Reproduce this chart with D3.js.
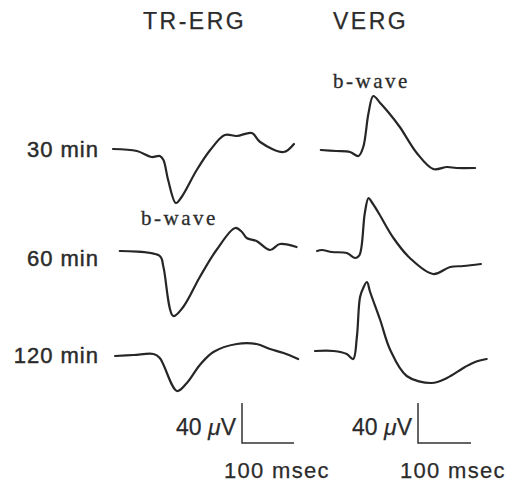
<!DOCTYPE html>
<html>
<head>
<meta charset="utf-8">
<script src="https://cdn.jsdelivr.net/npm/d3@7"></script>
<style>
  body { margin: 0; background: #fff; }
  text { fill: #2b2b2b; }
  .sans { font-family: "Liberation Sans", Arial, sans-serif; stroke: #2b2b2b; stroke-width: 0.25px; }
  .row { stroke-width: 0.45px; }
  .serif { font-family: "Liberation Serif", "Times New Roman", serif; stroke: #2b2b2b; stroke-width: 0.3px; }
</style>
</head>
<body>
<div id="chart"></div>
<script>
// time in msec from start of sweep, amplitude in uV relative to row baseline (up = positive)
var rows = ["30 min", "60 min", "120 min"];
var panels = ["TR-ERG", "VERG"];

var tr30T = [0, 46, 74, 90, 97, 106, 121, 132, 161, 187, 215, 238, 267, 283, 328, 348];
var tr30V = [1, -1, -7, -6, -10, -30, -53, -47, -20, 0, 15, 14, 17, 8, -2, 6];
var tr60T = [13, 90, 97, 116, 135, 167, 199, 235, 248, 257, 276, 302, 321, 353];
var tr60V = [1, -4, -15, -64, -55, -25, 2, 24, 20, 14, 11, 2, 8, 5];
var tr120T = [4, 40, 78, 90, 123, 142, 167, 193, 238, 276, 302, 328, 356];
var tr120V = [-1, 0, 1, -3, -36, -28, -10, 3, 11, 11, 6, 2, -4];

var v30T = [11, 40, 66, 82, 91, 101, 110, 123, 138, 160, 192, 223, 249, 267, 302];
var v30V = [0, -1, -2, -6, 3, 37, 54, 47, 38, 23, -3, -19, -17, -18, -18];
var v60T = [4, 13, 32, 60, 76, 84, 94, 101, 107, 119, 148, 179, 223, 255, 280, 313];
var v60V = [1, 2, 0, -1, -6, -3, 39, 54, 50, 40, 14, -6, -22, -15, -14, -12];
var v120T = [0, 35, 60, 72, 79, 85, 91, 98, 104, 123, 142, 173, 220, 249, 283, 302, 324];
var v120V = [4, 4, 1, -4, 18, 58, 67, 73, 63, 35, 5, -21, -28, -23, -12, -7, -4];

var traces = [
  [[tr30T, tr30V], [v30T, v30V]],
  [[tr60T, tr60V], [v60T, v60V]],
  [[tr120T, tr120V], [v120T, v120V]]
];

var barMsec = 100, barMicroV = 40;

var width = 516, height = 485;
var svg = d3.select("#chart").append("svg")
  .attr("width", width)
  .attr("height", height);

// one x scale per panel, one y scale per row
var x = [
  d3.scaleLinear().domain([0, 100]).range([113, 165]),
  d3.scaleLinear().domain([0, 100]).range([315, 368])
];
var rowBase = [150, 252, 355];
var y = rowBase.map(function (b) {
  return d3.scaleLinear().domain([0, 40]).range([b, b - 40]);
});

traces.forEach(function (row, r) {
  row.forEach(function (tr, p) {
    var pts = tr[0].map(function (t, i) { return [t, tr[1][i]]; });
    var line = d3.line()
      .x(function (d) { return x[p](d[0]); })
      .y(function (d) { return y[r](d[1]); })
      .curve(d3.curveCatmullRom.alpha(0.5));
    svg.append("path")
      .datum(pts)
      .attr("d", line)
      .attr("fill", "none")
      .attr("stroke", "#262626")
      .attr("stroke-width", 2.2)
      .attr("stroke-linejoin", "round")
      .attr("stroke-linecap", "round");
  });
});

// titles
svg.selectAll(".title")
  .data(panels)
  .enter().append("text")
  .attr("class", "sans title")
  .attr("x", function (d, i) { return [143, 333][i]; })
  .attr("y", 29)
  .style("font-size", "23px")
  .style("letter-spacing", "2.5px")
  .text(function (d) { return d; });

// row labels
svg.selectAll(".row")
  .data(rows)
  .enter().append("text")
  .attr("class", "sans row")
  .attr("x", 99)
  .attr("y", function (d, i) { return [157, 266, 363][i]; })
  .attr("text-anchor", "end")
  .style("font-size", "22px")
  .style("letter-spacing", "1px")
  .text(function (d) { return d; });

// b-wave labels
[[141, 225], [333, 88]].forEach(function (pos) {
  svg.append("text")
    .attr("class", "serif")
    .attr("x", pos[0])
    .attr("y", pos[1])
    .style("font-size", "21px")
    .style("letter-spacing", "2.5px")
    .text("b-wave");
});

// scale bars
var barCorner = [[242, 443], [418, 443]];
barCorner.forEach(function (c, p) {
  var len = x[p](barMsec) - x[p](0);
  var hgt = y[0](0) - y[0](barMicroV);
  svg.append("path")
    .attr("d", "M" + c[0] + "," + (c[1] - hgt) + "V" + c[1] + "H" + (c[0] + len))
    .attr("fill", "none")
    .attr("stroke", "#333")
    .attr("stroke-width", 1.5);

  var lab = svg.append("text")
    .attr("class", "sans")
    .attr("x", c[0] - 6)
    .attr("y", c[1] - 8)
    .attr("text-anchor", "end")
    .style("font-size", "23px");
  lab.append("tspan").text(barMicroV + " ");
  lab.append("tspan").style("font-style", "italic").text("\u03bc");
  lab.append("tspan").text("V");

  svg.append("text")
    .attr("class", "sans")
    .attr("x", c[0] - 18)
    .attr("y", 478)
    .style("font-size", "22px")
    .style("letter-spacing", "1.3px")
    .text(barMsec + " msec");
});
</script>
</body>
</html>
